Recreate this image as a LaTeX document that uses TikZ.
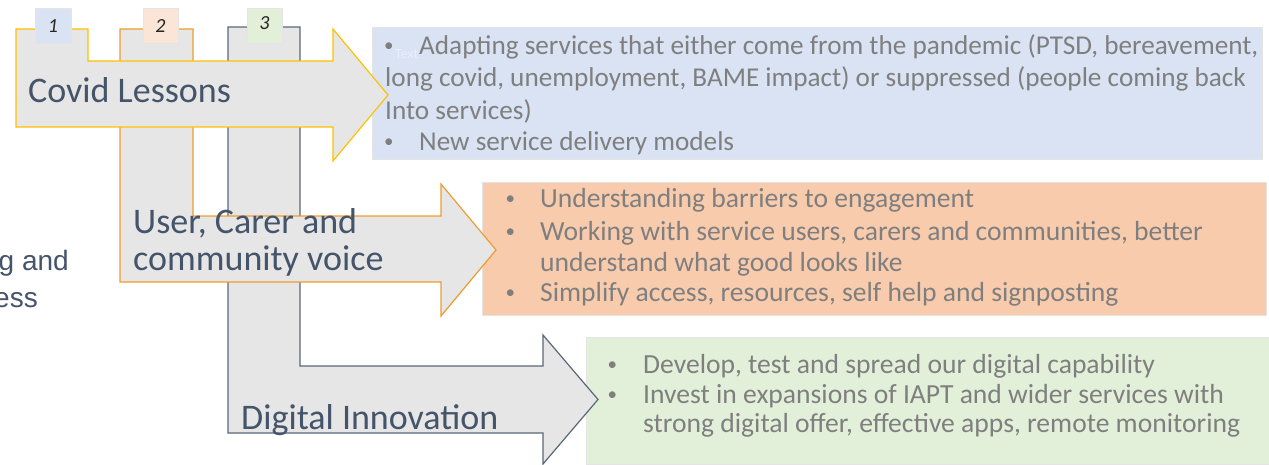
\documentclass[tikz,border=0pt]{standalone}
\usepackage{fontspec}
\setmainfont{Carlito}
\newfontfamily\arialf{Liberation Sans}
\definecolor{arrfill}{HTML}{E7E6E6}
\definecolor{ayellow}{HTML}{FFC000}
\definecolor{aorange}{HTML}{EE9C2E}
\definecolor{aslate}{HTML}{5A6778}
\definecolor{titlec}{HTML}{44546A}
\definecolor{bodyc}{HTML}{7F7F7F}
\definecolor{bluebox}{HTML}{DAE3F3}
\definecolor{orangebox}{HTML}{F8CBAD}
\definecolor{greenbox}{HTML}{E2F0D9}
\definecolor{numorange}{HTML}{FBE5D6}
\definecolor{edgegrey}{HTML}{E4E4E4}
\tikzset{
  arrowshape/.style={fill=arrfill, line width=1.2pt, line join=miter},
  infobox/.style={draw=edgegrey, line width=0.8pt},
  numbox/.style={draw=edgegrey, line width=0.8pt},
  numtext/.style={font=\fontsize{20}{24}\selectfont\itshape, text=black!85, inner sep=0pt},
  title/.style={font=\fontsize{36}{40}\selectfont, text=titlec, anchor=base west, inner sep=0pt},
  body/.style={font=\fontsize{27.2}{32}\selectfont, text=bodyc, anchor=base west, inner sep=0pt},
  bodyb/.style={font=\fontsize{27.6}{32}\selectfont, text=bodyc, anchor=base west, inner sep=0pt},
  bul/.style={font=\fontsize{19}{22}\selectfont, text=bodyc, anchor=base west, inner sep=0pt},
  lefttext/.style={font=\arialf\fontsize{28}{32}\selectfont, text=titlec, anchor=base east, inner sep=0pt}
}
\begin{document}
\begin{tikzpicture}[x=1pt,y=-1pt]
\useasboundingbox (0,0) rectangle (1269,464);
\clip (0,0) rectangle (1269,464);
% left cut-off text
\node[lefttext] (lt1) at (69,270) {g and};
\node[lefttext] (lt2) at (38,307) {ess};
% info boxes
\fill[bluebox] (372,27) rectangle (1262,159);
\draw[infobox] (372,27) rectangle (1262,159);
\fill[orangebox] (482,182) rectangle (1266,315);
\draw[infobox] (482,182) rectangle (1266,315);
\fill[greenbox] (586,337) rectangle (1269,464);
\draw[infobox] (586,337) rectangle (1269,464);
% arrow 3 (slate)
\draw[arrowshape, draw=aslate] (228,27) -- (300,27) -- (300,366) -- (543,366) -- (543,335) -- (598,399.5) -- (543,464) -- (543,433) -- (228,433) -- cycle;
% arrow 2 (orange)
\draw[arrowshape, draw=aorange] (120,29) -- (193,29) -- (193,216) -- (441,216) -- (441,184) -- (496,250) -- (441,316) -- (441,282) -- (120,282) -- cycle;
% arrow 1 (yellow)
\draw[arrowshape, draw=ayellow] (16,29) -- (88,29) -- (88,61) -- (333,61) -- (333,29) -- (388,95) -- (333,161) -- (333,127) -- (16,127) -- cycle;
% number tabs
\filldraw[numbox, fill=bluebox] (35,8) rectangle (71,43);
\node[numtext] (n1) at (53,26) {1};
\filldraw[numbox, fill=numorange] (143,8) rectangle (178,43);
\node[numtext] (n2) at (160.5,26) {2};
\filldraw[numbox, fill=greenbox] (247,8) rectangle (282,43);
\node[numtext] (n3) at (264.5,23) {3};
% arrow titles
\node[title] (t1) at (28,102) {Covid Lessons};
\node[title] (t2a) at (133,233) {User, Carer and};
\node[title] (t2b) at (133,270) {community voice};
\node[title] (t3) at (241,429) {Digital Innovation};
% box 1 text
\node[font=\fontsize{14}{16}\selectfont, text=white, opacity=0.45, anchor=base west, inner sep=0pt] (ph) at (395,58) {Text};
\node[bul] (b1a) at (384,51) {•};
\node[body] (l1a) at (419,54) {Adapting services that either come from the pandemic (PTSD, bereavement,};
\node[body] (l1b) at (385,86) {long covid, unemployment, BAME impact) or suppressed (people coming back};
\node[body] (l1c) at (385,119) {Into services)};
\node[bul] (b1d) at (384,147) {•};
\node[body] (l1d) at (419,150) {New service delivery models};
% box 2 text
\node[bul] (b2a) at (505.5,204) {•};
\node[bodyb] (l2a) at (540,207) {Understanding barriers to engagement};
\node[bul] (b2b) at (505.5,237) {•};
\node[bodyb] (l2b) at (540,240) {Working with service users, carers and communities, better};
\node[bodyb] (l2c) at (540,271) {understand what good looks like};
\node[bul] (b2d) at (505.5,298) {•};
\node[bodyb] (l2d) at (540,301) {Simplify access, resources, self help and signposting};
% box 3 text
\node[bul] (b3a) at (607.5,370) {•};
\node[bodyb] (l3a) at (643,373) {Develop, test and spread our digital capability};
\node[bul] (b3b) at (607.5,400) {•};
\node[bodyb] (l3b) at (643,403) {Invest in expansions of IAPT and wider services with};
\node[bodyb] (l3c) at (643,432) {strong digital offer, effective apps, remote monitoring};
\end{tikzpicture}
\end{document}
